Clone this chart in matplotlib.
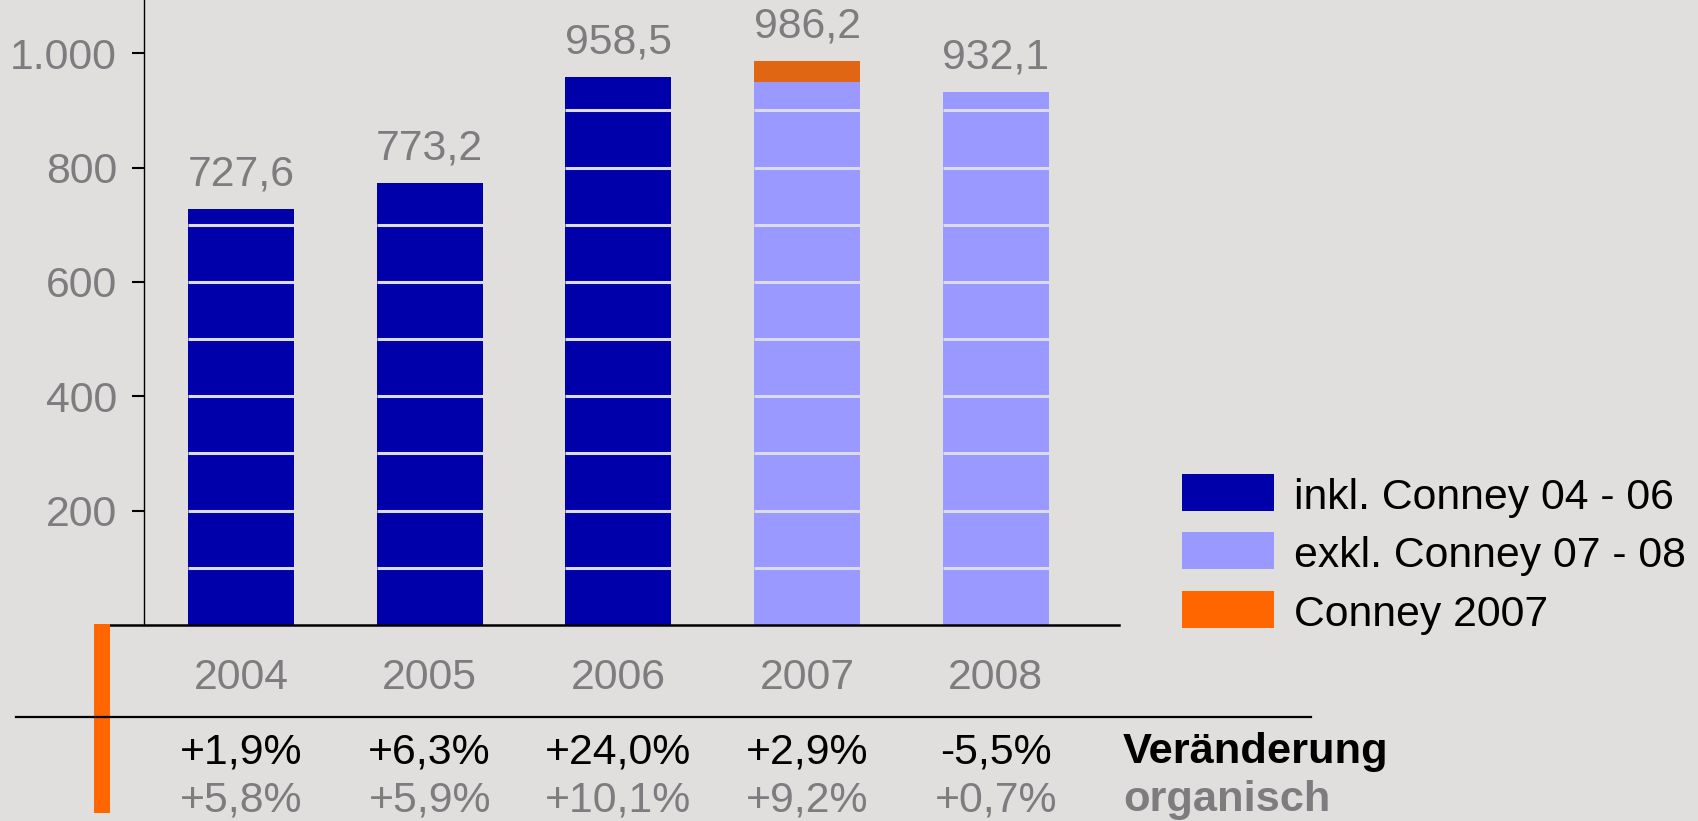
import matplotlib
matplotlib.use("Agg")
import matplotlib.pyplot as plt
from matplotlib.patches import Rectangle
from matplotlib.lines import Line2D
from matplotlib.ticker import FuncFormatter
import matplotlib.transforms as mtransforms

# ---- data ----
years = ['2004', '2005', '2006', '2007', '2008']
inkl_conney = [727.6, 773.2, 958.5, 0.0, 0.0]
exkl_conney = [0.0, 0.0, 0.0, 949.0, 932.1]
conney_2007 = [0.0, 0.0, 0.0, 37.2, 0.0]
totals = [727.6, 773.2, 958.5, 986.2, 932.1]
total_labels = ['727,6', '773,2', '958,5', '986,2', '932,1']
change = ['+1,9%', '+6,3%', '+24,0%', '+2,9%', '-5,5%']
organic = ['+5,8%', '+5,9%', '+10,1%', '+9,2%', '+0,7%']
yticks = [200, 400, 600, 800, 1000]
legend_labels = ['inkl. Conney 04 - 06', 'exkl. Conney 07 - 08', 'Conney 2007']

# ---- style ----
BG = '#E0DFDD'
DARK = '#0000AA'
LIGHT = '#9999FF'
ORANGE_BAR = '#E06614'
ORANGE = '#FF6600'
GRAY = '#7F7C80'
GAP = '#DCDCE8'
FS = 30.8
FSB = 31.2

plt.rcParams['font.family'] = ['Liberation Sans', 'DejaVu Sans']

W, H = 1699, 821
fig = plt.figure(figsize=(W / 100, H / 100), dpi=100, facecolor=BG)

def fx(px):
    return px / W

def fy(py):
    return (H - py) / H

ax_left, ax_right, ax_bottom, ax_top = 110, 1119, 625, 0
ax = fig.add_axes([fx(ax_left), fy(ax_bottom), fx(ax_right - ax_left), (ax_bottom - ax_top) / H])
ax.set_facecolor(BG)

x = list(range(len(years)))
width = 0.562
ax.bar(x, inkl_conney, width, color=DARK, zorder=2)
ax.bar(x, exkl_conney, width, color=LIGHT, zorder=2)
ax.bar(x, conney_2007, width, bottom=exkl_conney, color=ORANGE_BAR, zorder=2)

# light separator lines every 100 across the bars
for i, tot in enumerate(totals):
    g = 100
    while g < tot:
        ax.hlines(g, i - width / 2, i + width / 2, color=GAP, lw=2.2, zorder=3)
        g += 100

for i, (tot, lab) in enumerate(zip(totals, total_labels)):
    ax.annotate(lab, (i, tot), xytext=(0, 16.8), textcoords='offset points',
                ha='center', va='baseline', fontsize=FS, color=GRAY)

ax.set_xlim(-0.694, 4.653)
ax.set_ylim(0, 1093)

for s in ['top', 'right']:
    ax.spines[s].set_visible(False)
ax.spines['left'].set_position(('data', -0.514))
ax.spines['left'].set_linewidth(1.0)
ax.spines['bottom'].set_linewidth(1.8)

ax.set_yticks(yticks)
ax.yaxis.set_major_formatter(FuncFormatter(lambda v, p: f'{int(v):,}'.replace(',', '.')))
ax.tick_params(axis='y', direction='out', length=8.6, width=1.5, pad=10.8,
               labelsize=FS, labelcolor=GRAY, color='black')
ax.set_xticks(x)
ax.set_xticklabels(years)
ax.tick_params(axis='x', length=0, pad=24.0, labelsize=FS, labelcolor=GRAY)

# lower separator line
fig.add_artist(Line2D([fx(16), fx(1311)], [fy(717), fy(717)], color='black', lw=1.6))
# orange vertical marker
fig.add_artist(Rectangle((fx(94), fy(813)), fx(16), (813 - 624) / H, color=ORANGE, lw=0))

# table rows below
trans = mtransforms.blended_transform_factory(ax.transData, fig.transFigure)
for i in x:
    fig.text(i, fy(763), change[i], transform=trans, ha='center', va='baseline',
             fontsize=FS, color='black')
    fig.text(i, fy(811), organic[i], transform=trans, ha='center', va='baseline',
             fontsize=FS, color=GRAY)
fig.text(fx(1123), fy(763), 'Veränderung', ha='left', va='baseline',
         fontsize=FSB, color='black', fontweight='bold')
fig.text(fx(1123), fy(811), 'organisch', ha='left', va='baseline',
         fontsize=FSB, color=GRAY, fontweight='bold')

# legend
leg_colors = [DARK, LIGHT, ORANGE]
tops = [474, 532, 591]
for c, t, lab in zip(leg_colors, tops, legend_labels):
    fig.add_artist(Rectangle((fx(1182), fy(t + 37)), fx(92), 37 / H, color=c, lw=0))
    fig.text(fx(1294), fy(t + 35), lab, ha='left', va='baseline', fontsize=FS, color='black')

fig.savefig('out.png', dpi=100, facecolor=BG)
